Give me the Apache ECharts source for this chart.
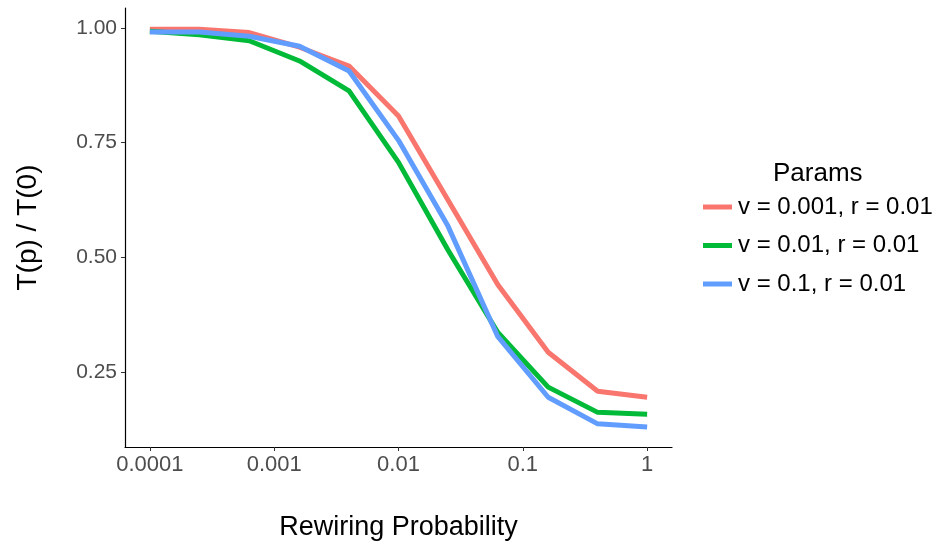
<!DOCTYPE html>
<html>
<head>
<meta charset="utf-8">
<script src="https://cdn.jsdelivr.net/npm/echarts@6/dist/echarts.min.js"></script>
<style>html,body{margin:0;padding:0;background:#fff}#c{width:938px;height:546px}</style>
</head>
<body>
<div id="c"></div>
<script>
var probs = [0.0001, 0.00025, 0.00063, 0.0016, 0.004, 0.01, 0.025, 0.063, 0.16, 0.4, 1];
var seriesNames = ['v = 0.001, r = 0.01', 'v = 0.01, r = 0.01', 'v = 0.1, r = 0.01'];
var redVals   = [0.997, 0.997, 0.990, 0.958, 0.917, 0.808, 0.625, 0.440, 0.293, 0.208, 0.195];
var greenVals = [0.993, 0.985, 0.972, 0.928, 0.863, 0.707, 0.516, 0.336, 0.217, 0.162, 0.158];
var blueVals  = [0.991, 0.991, 0.982, 0.960, 0.906, 0.755, 0.568, 0.327, 0.195, 0.137, 0.130];
var xTicks = [0.0001, 0.001, 0.01, 0.1, 1];
var xTickLabels = ['0.0001', '0.001', '0.01', '0.1', '1'];
var yTicks = [0.25, 0.5, 0.75, 1.0];
var yTickLabels = ['0.25', '0.50', '0.75', '1.00'];
var colors = ['#F8766D', '#00BA38', '#619CFF'];

function pairs(vals){ return probs.map(function(p,i){ return [p, vals[i]]; }); }
var allVals = [redVals, greenVals, blueVals];

var chart = echarts.init(document.getElementById('c'), null, {renderer:'canvas'});
var font = '"Liberation Sans", Arial, sans-serif';
chart.setOption({
  animation: false,
  backgroundColor: '#ffffff',
  textStyle: {fontFamily: font},
  title: {
    text: 'Params', left: 768, top: 156,
    textStyle: {fontFamily: font, fontSize: 26, fontWeight: 'normal', color: '#000'}
  },
  legend: {
    orient: 'vertical', left: 698, top: 190,
    itemWidth: 29, itemHeight: 5, itemGap: 14.5,
    icon: 'rect',
    data: seriesNames,
    textStyle: {fontFamily: font, fontSize: 24, color: '#000', lineHeight: 24, padding: [0,0,0,1]}
  },
  grid: {left: 125, right: 266, top: 8, bottom: 99, containLabel: false},
  xAxis: {
    type: 'log', logBase: 10,
    min: Math.pow(10, -4.2), max: Math.pow(10, 0.2),
    name: 'Rewiring Probability', nameLocation: 'middle', nameGap: 67,
    nameTextStyle: {fontFamily: font, fontSize: 27, color: '#000'},
    axisLine: {show: true, lineStyle: {color: '#000', width: 1.2}},
    axisTick: {show: true, length: 4, customValues: xTicks, lineStyle: {color: '#333', width: 1}},
    axisLabel: {
      customValues: xTicks, margin: 7, fontSize: 22, color: '#4D4D4D', fontFamily: font,
      formatter: function(v){ var i = xTicks.findIndex(function(t){return Math.abs(Math.log10(t)-Math.log10(v))<1e-6;}); return i>=0 ? xTickLabels[i] : ''; }
    },
    splitLine: {show: false}
  },
  yAxis: {
    type: 'value', min: 0.0865, max: 1.0435,
    name: 'T(p) / T(0)', nameLocation: 'middle', nameGap: 83, nameRotate: 90,
    nameTextStyle: {fontFamily: font, fontSize: 28, color: '#000'},
    axisLine: {show: true, lineStyle: {color: '#000', width: 1.2}},
    axisTick: {show: true, length: 4, customValues: yTicks, lineStyle: {color: '#333', width: 1}},
    axisLabel: {
      customValues: yTicks, margin: 8, fontSize: 21, color: '#4D4D4D', fontFamily: font,
      formatter: function(v){ var i = yTicks.findIndex(function(t){return Math.abs(t-v)<1e-6;}); return i>=0 ? yTickLabels[i] : ''; }
    },
    splitLine: {show: false}
  },
  series: allVals.map(function(vals, k){
    return {
      name: seriesNames[k], type: 'line', data: pairs(vals),
      showSymbol: false, symbol: 'none',
      lineStyle: {color: colors[k], width: 5, join: 'round'},
      itemStyle: {color: colors[k]}
    };
  })
});
</script>
</body>
</html>
